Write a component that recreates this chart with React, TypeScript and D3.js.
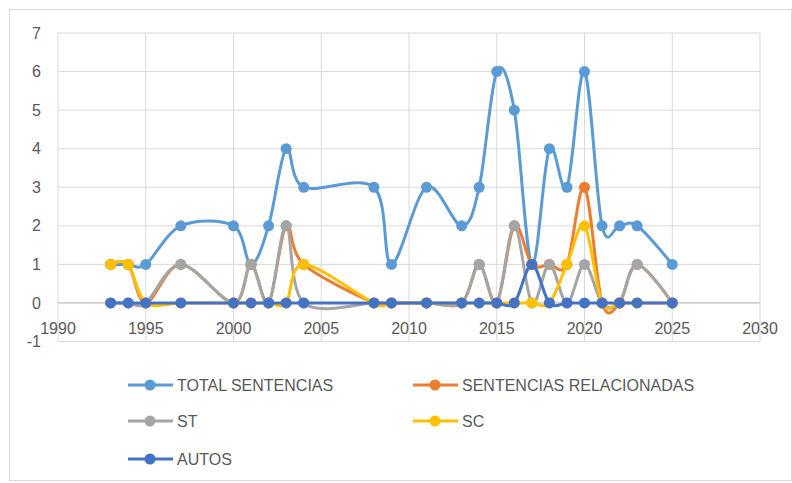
import React from 'react';
import * as d3 from 'd3';

const years = [1993, 1994, 1995, 1997, 2000, 2001, 2002, 2003, 2004, 2008, 2009, 2011, 2013, 2014, 2015, 2016, 2017, 2018, 2019, 2020, 2021, 2022, 2023, 2025];
const totalSentencias = [1, 1, 1, 2, 2, 1, 2, 4, 3, 3, 1, 3, 2, 3, 6, 5, 1, 4, 3, 6, 2, 2, 2, 1];
const sentRelacionadas = [1, 1, 0, 1, 0, 1, 0, 2, 1, 0, 0, 0, 0, 1, 0, 2, 1, 1, 1, 3, 0, 0, 1, 0];
const st = [0, 0, 0, 1, 0, 1, 0, 2, 0, 0, 0, 0, 0, 1, 0, 2, 0, 1, 0, 1, 0, 0, 1, 0];
const sc = [1, 1, 0, 0, 0, 0, 0, 0, 1, 0, 0, 0, 0, 0, 0, 0, 0, 0, 1, 2, 0, 0, 0, 0];
const autos = [0, 0, 0, 0, 0, 0, 0, 0, 0, 0, 0, 0, 0, 0, 0, 0, 1, 0, 0, 0, 0, 0, 0, 0];

const xTicks = [1990, 1995, 2000, 2005, 2010, 2015, 2020, 2025, 2030];
const yTicks = [-1, 0, 1, 2, 3, 4, 5, 6, 7];

const series = [
  { name: 'TOTAL SENTENCIAS', values: totalSentencias, color: '#5B9BD5' },
  { name: 'SENTENCIAS RELACIONADAS', values: sentRelacionadas, color: '#ED7D31' },
  { name: 'ST', values: st, color: '#A5A5A5' },
  { name: 'SC', values: sc, color: '#FFC000' },
  { name: 'AUTOS', values: autos, color: '#4472C4' },
];

const W = 792;
const H = 483;
const font = '"Liberation Sans", Arial, sans-serif';
const textColor = '#595959';
const gridColor = '#D9D9D9';

export default function App() {
  const x = d3.scaleLinear().domain([1990, 2030]).range([58, 760]);
  const y = d3.scaleLinear().domain([-1, 7]).range([341.5, 33]);

  // Excel style smoothed lines
  const line = d3
    .line<number>()
    .x((d, i) => x(years[i]))
    .y((d) => y(d))
    .curve(d3.curveCardinal.tension(0));

  // legend layout: two columns, three rows
  const legendCols = [128, 413];
  const legendRows = [385, 421, 459];

  return (
    <svg width={W} height={H} style={{ position: 'absolute', left: 0, top: 0 }}>
      <rect x={0} y={0} width={W} height={H} fill="#fff" />
      <rect x={9.5} y={9.5} width={782} height={471} fill="none" stroke={gridColor} />

      {/* gridlines */}
      {yTicks.map((t) => (
        <line key={'gy' + t} x1={x(1990)} x2={x(2030)} y1={y(t)} y2={y(t)} stroke={gridColor} />
      ))}
      {xTicks.map((t) => (
        <line key={'gx' + t} x1={x(t)} x2={x(t)} y1={y(-1)} y2={y(7)} stroke={gridColor} />
      ))}
      <line x1={x(1990)} x2={x(2030)} y1={y(0)} y2={y(0)} stroke="#BFBFBF" />

      {/* axis labels */}
      {yTicks.map((t) => (
        <text key={'ly' + t} x={41} y={y(t)} dy="0.35em" textAnchor="end" fontFamily={font} fontSize={16} fill={textColor}>
          {t}
        </text>
      ))}
      {xTicks.map((t) => (
        <text key={'lx' + t} x={x(t)} y={y(0) + 31} textAnchor="middle" fontFamily={font} fontSize={16} fill={textColor}>
          {t}
        </text>
      ))}

      {/* series */}
      {series.map((s) => (
        <g key={s.name}>
          <path d={line(s.values) || ''} fill="none" stroke={s.color} strokeWidth={3} strokeLinejoin="round" />
          {s.values.map((v, i) => (
            <circle key={i} cx={x(years[i])} cy={y(v)} r={5.5} fill={s.color} />
          ))}
        </g>
      ))}

      {/* legend */}
      {series.map((s, i) => {
        const lx = legendCols[i % 2];
        const ly = legendRows[Math.floor(i / 2)];
        return (
          <g key={'lg' + s.name}>
            <line x1={lx} x2={lx + 45} y1={ly} y2={ly} stroke={s.color} strokeWidth={3} />
            <circle cx={lx + 22} cy={ly} r={5.5} fill={s.color} />
            <text x={lx + 49} y={ly} dy="0.35em" fontFamily={font} fontSize={16} fill={textColor}>
              {s.name}
            </text>
          </g>
        );
      })}
    </svg>
  );
}
